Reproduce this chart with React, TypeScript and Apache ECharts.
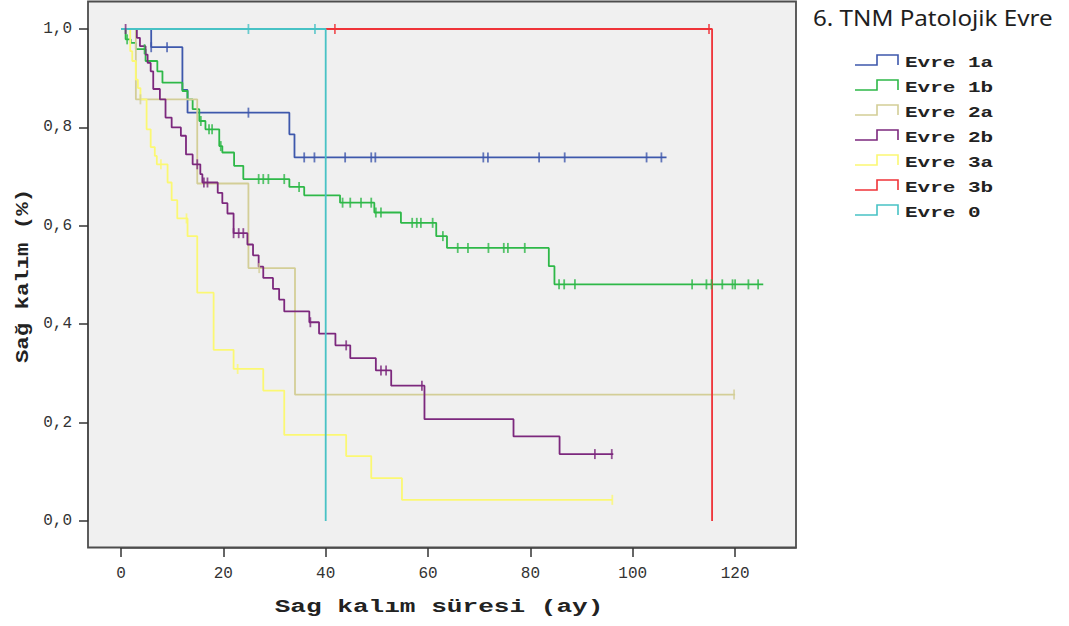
import React, { useEffect, useRef } from "react";
import * as echarts from "echarts";

// ---- labels & styling lists ----
const chartTitle = "6. TNM Patolojik Evre";
const xAxisTitle = "Sag kalım süresi (ay)";
const yAxisTitle = "Sağ kalım (%)";
const groupNames = ["Evre 1a", "Evre 1b", "Evre 2a", "Evre 2b", "Evre 3a", "Evre 3b", "Evre 0"];
const groupColors = ["#3e58ac", "#2eb848", "#d3ce97", "#7c287d", "#fbf873", "#ef3338", "#48c2c5"];

const xTicks = [0, 20, 40, 60, 80, 100, 120];
const yTicks = [0, 0.2, 0.4, 0.6, 0.8, 1.0];
const xAxisMax = 131.9; // right edge of the plot frame, in months

// ---- Kaplan-Meier step data (time in months, survival after the step) ----
const evre1aTime = [0, 5.9, 12.0, 13.0, 32.9, 33.9, 106.6];
const evre1aSurv = [1, 0.963, 0.876, 0.83, 0.786, 0.739, 0.739];
const evre1aCensor = [5.9, 9.0, 24.9, 35.8, 37.8, 43.8, 48.9, 49.7, 70.8, 71.7, 81.7, 86.7, 102.7, 105.6];

const evre1bTime = [0, 0.9, 1.9, 2.9, 4.8, 7.1, 8.1, 12.0, 13.0, 14.0, 15.3, 16.5, 19.2, 19.8, 22.1, 23.9, 32.9, 35.8, 42.8, 49.5, 54.7, 61.6, 63.7, 83.6, 84.7, 125.5];
const evre1bSurv = [1, 0.979, 0.972, 0.959, 0.935, 0.914, 0.891, 0.874, 0.857, 0.837, 0.813, 0.796, 0.762, 0.749, 0.722, 0.695, 0.679, 0.662, 0.647, 0.627, 0.606, 0.579, 0.555, 0.518, 0.481, 0.481];
const evre1bCensor = [1.2, 4.6, 15.6, 17.2, 17.8, 19.5, 26.9, 27.8, 28.8, 31.9, 34.8, 43.3, 44.8, 46.9, 48.9, 49.8, 50.8, 56.9, 57.8, 58.6, 60.9, 62.9, 65.8, 67.8, 71.8, 74.8, 75.6, 78.9, 85.6, 86.6, 88.7, 111.6, 114.4, 115.4, 117.5, 119.5, 120.0, 122.6, 124.5];

const evre2aTime = [0, 2.9, 14.9, 24.9, 34.0, 120.0];
const evre2aSurv = [1, 0.857, 0.686, 0.514, 0.257, 0.257];
const evre2aCensor = [3.8, 27.0, 119.8];

const evre2bTime = [0, 3.1, 3.7, 4.8, 5.2, 5.8, 6.3, 7.6, 8.7, 9.9, 11.7, 12.7, 14.0, 15.5, 15.9, 18.9, 19.8, 20.8, 22.0, 24.7, 25.8, 26.9, 27.8, 29.7, 30.9, 31.9, 36.8, 38.7, 41.9, 44.8, 49.8, 52.8, 59.3, 76.7, 85.7, 96.2];
const evre2bSurv = [1, 0.982, 0.965, 0.948, 0.931, 0.914, 0.878, 0.857, 0.82, 0.8, 0.783, 0.745, 0.725, 0.705, 0.688, 0.667, 0.646, 0.625, 0.585, 0.562, 0.54, 0.517, 0.494, 0.472, 0.45, 0.426, 0.404, 0.381, 0.357, 0.331, 0.306, 0.275, 0.207, 0.172, 0.136, 0.136];
const evre2bCensor = [0.9, 14.9, 16.2, 16.9, 22.0, 23.0, 23.9, 37.0, 44.0, 50.8, 51.8, 58.8, 92.6, 95.9];

const evre3aTime = [0, 1.8, 2.2, 2.9, 3.3, 3.8, 5.0, 5.8, 6.6, 7.0, 9.1, 9.9, 11.0, 13.0, 14.9, 18.1, 22.0, 27.8, 31.9, 44.0, 48.9, 54.9, 96.0];
const evre3aSurv = [1, 0.955, 0.935, 0.897, 0.88, 0.857, 0.796, 0.76, 0.742, 0.725, 0.688, 0.652, 0.615, 0.579, 0.464, 0.348, 0.309, 0.265, 0.175, 0.132, 0.087, 0.043, 0.043];
const evre3aCensor = [7.8, 12.8, 22.8, 96.0];

const evre3bTime = [0, 115.5];
const evre3bSurv = [1, 0];
const evre3bCensor = [41.8, 114.9];

const evre0Time = [0, 40.0];
const evre0Surv = [1, 0];
const evre0Censor = [24.9, 37.9];

const groupTimes = [evre1aTime, evre1bTime, evre2aTime, evre2bTime, evre3aTime, evre3bTime, evre0Time];
const groupSurv = [evre1aSurv, evre1bSurv, evre2aSurv, evre2bSurv, evre3aSurv, evre3bSurv, evre0Surv];
const groupCensor = [evre1aCensor, evre1bCensor, evre2aCensor, evre2bCensor, evre3aCensor, evre3bCensor, evre0Censor];

function survivalAt(times: number[], surv: number[], t: number): number {
  let s = surv[0];
  for (let i = 0; i < times.length; i++) {
    if (times[i] <= t) s = surv[i];
  }
  return s;
}

export default function App() {
  const ref = useRef<HTMLDivElement>(null);

  useEffect(() => {
    if (!ref.current) return;
    const chart = echarts.init(ref.current, null, { renderer: "svg" });

    const lineSeries = groupNames.map((name, i) => ({
      type: "line",
      name,
      data: groupTimes[i].map((t, k) => [t, groupSurv[i][k]]),
      step: "end",
      showSymbol: false,
      symbol: "none",
      clip: false,
      silent: true,
      z: 3,
      lineStyle: { color: groupColors[i], width: 1.8 },
      itemStyle: { color: groupColors[i] },
    }));

    const censorSeries = groupNames.map((name, i) => ({
      type: "scatter",
      name,
      data: groupCensor[i].map((t) => [t, survivalAt(groupTimes[i], groupSurv[i], t)]),
      symbol: "rect",
      symbolSize: [1.8, 10],
      clip: false,
      silent: true,
      z: 4,
      itemStyle: { color: groupColors[i] },
    }));

    const legendGraphics: any[] = [];
    groupNames.forEach((name, i) => {
      const cy = 62.5 + 25 * i;
      const iy = cy - 2.5;
      legendGraphics.push({
        type: "polyline",
        shape: {
          points: [
            [855, iy + 5],
            [877, iy + 5],
            [877, iy - 5],
            [898, iy - 5],
            [898, iy + 5],
          ],
        },
        style: { stroke: groupColors[i], lineWidth: 1.6, fill: null },
        z: 5,
      });
      legendGraphics.push({
        type: "text",
        x: 905,
        y: cy,
        scaleX: 1.4,
        style: {
          text: name,
          fontFamily: "Liberation Mono",
          fontWeight: "bold",
          fontSize: 15,
          fill: "#222",
          align: "left",
          verticalAlign: "middle",
          textAlign: "left",
          textVerticalAlign: "middle",
        },
        z: 5,
      });
    });

    const axisLabelStyle = {
      color: "#333",
      fontFamily: "Liberation Mono",
      fontSize: 16,
    };

    const option: any = {
      animation: false,
      backgroundColor: "#ffffff",
      grid: { left: 121, right: 273, top: 29, bottom: 105, containLabel: false },
      xAxis: {
        type: "value",
        min: xTicks[0],
        max: xAxisMax,
        interval: xTicks[1] - xTicks[0],
        offset: 27,
        axisLine: { show: true, onZero: false, lineStyle: { color: "#4d4d4d", width: 1.6 } },
        axisTick: {
          show: true,
          length: 9,
          customValues: xTicks,
          lineStyle: { color: "#333", width: 1.5 },
        },
        splitLine: { show: false },
        axisLabel: {
          ...axisLabelStyle,
          margin: 18,
          customValues: xTicks,
          formatter: (v: number) => String(v),
        },
      },
      yAxis: {
        type: "value",
        min: yTicks[0],
        max: yTicks[yTicks.length - 1],
        interval: 0.2,
        offset: 33,
        axisLine: { show: true, onZero: false, lineStyle: { color: "#4d4d4d", width: 1.6 } },
        axisTick: { show: true, length: 9, lineStyle: { color: "#333", width: 1.5 } },
        splitLine: { show: false },
        axisLabel: {
          ...axisLabelStyle,
          margin: 16,
          formatter: (v: number) => v.toFixed(1).replace(".", ","),
        },
      },
      graphic: [
        {
          type: "rect",
          shape: { x: 88, y: 1.5, width: 708, height: 546 },
          style: { fill: "#f0f0f0", stroke: "#4d4d4d", lineWidth: 1.8 },
          z: 0,
          silent: true,
        },
        {
          type: "text",
          x: 813,
          y: 17,
          scaleX: 1.1,
          style: {
            text: chartTitle,
            fontFamily: "Noto Sans",
            fontSize: 22,
            fill: "#1e1e1e",
            align: "left",
            verticalAlign: "middle",
            textAlign: "left",
            textVerticalAlign: "middle",
          },
          z: 5,
        },
        {
          type: "text",
          x: 439,
          y: 607,
          scaleX: 1.45,
          style: {
            text: xAxisTitle,
            fontFamily: "Liberation Mono",
            fontWeight: "bold",
            fontSize: 18,
            fill: "#222",
            align: "center",
            verticalAlign: "middle",
            textAlign: "center",
            textVerticalAlign: "middle",
          },
          z: 5,
        },
        {
          type: "text",
          x: 23,
          y: 276,
          rotation: Math.PI / 2,
          scaleX: 1.24,
          style: {
            text: yAxisTitle,
            fontFamily: "Liberation Mono",
            fontWeight: "bold",
            fontSize: 18,
            fill: "#222",
            align: "center",
            verticalAlign: "middle",
            textAlign: "center",
            textVerticalAlign: "middle",
          },
          z: 5,
        },
        ...legendGraphics,
      ],
      series: [...lineSeries, ...censorSeries],
    };

    chart.setOption(option);
    return () => chart.dispose();
  }, []);

  return (
    <div
      ref={ref}
      style={{ position: "fixed", left: 0, top: 0, width: 1069, height: 626, background: "#fff" }}
    />
  );
}
